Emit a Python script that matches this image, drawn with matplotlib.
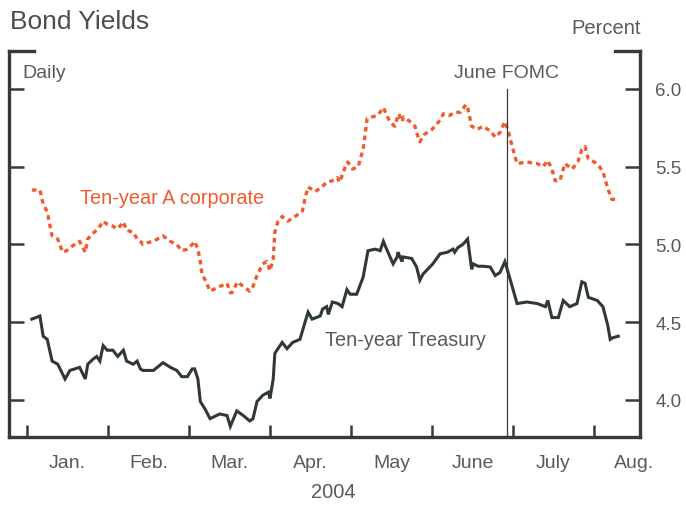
import numpy as np
import matplotlib
matplotlib.use('Agg')
import matplotlib.pyplot as plt

plt.rcParams['font.family'] = ['Liberation Sans', 'DejaVu Sans']

### DATA  (x = months since Jan 1 2004, y = percent)
corp_t = [0.06, 0.16, 0.20, 0.25, 0.31, 0.38, 0.44, 0.49, 0.56, 0.65, 0.72, 0.75,
          0.81, 0.88, 0.94, 0.99, 1.05, 1.12, 1.19, 1.23, 1.31, 1.36, 1.40, 1.43,
          1.48, 1.56, 1.68, 1.77, 1.85, 1.91, 1.98, 2.04, 2.07, 2.11, 2.14, 2.16,
          2.20, 2.26, 2.38, 2.47, 2.51, 2.53, 2.60, 2.67, 2.75, 2.79, 2.84, 2.91,
          2.96, 3.00, 3.04, 3.06, 3.10, 3.15, 3.22, 3.31, 3.40, 3.43, 3.47, 3.56,
          3.64, 3.70, 3.77, 3.83, 3.86, 3.93, 3.96, 4.02, 4.09, 4.12, 4.15, 4.20,
          4.26, 4.33, 4.40, 4.44, 4.48, 4.54, 4.57, 4.59, 4.63, 4.65, 4.73, 4.79,
          4.81, 4.85, 4.91, 5.00, 5.06, 5.10, 5.14, 5.22, 5.28, 5.35, 5.42, 5.44,
          5.49, 5.56, 5.63, 5.72, 5.78, 5.84, 5.90, 5.94, 5.99, 6.05, 6.17, 6.30,
          6.37, 6.43, 6.48, 6.52, 6.58, 6.64, 6.73, 6.80, 6.85, 6.89, 6.93, 7.04,
          7.11, 7.17, 7.22, 7.26]
corp_y = [5.35, 5.35, 5.26, 5.21, 5.055, 5.035, 4.95, 4.96, 4.99, 5.02, 4.95, 5.035,
          5.07, 5.10, 5.15, 5.13, 5.12, 5.10, 5.145, 5.09, 5.08, 5.035, 5.02, 5.00,
          5.01, 5.02, 5.055, 5.02, 5.00, 4.96, 4.97, 5.00, 5.02, 4.97, 4.89, 4.81,
          4.77, 4.70, 4.73, 4.75, 4.69, 4.69, 4.76, 4.73, 4.70, 4.73, 4.80, 4.875,
          4.89, 4.83, 4.91, 5.08, 5.15, 5.18, 5.15, 5.18, 5.215, 5.29, 5.37, 5.34,
          5.37, 5.40, 5.41, 5.43, 5.40, 5.50, 5.53, 5.485, 5.50, 5.56, 5.61, 5.81,
          5.82, 5.83, 5.88, 5.83, 5.79, 5.76, 5.81, 5.84, 5.79, 5.82, 5.79, 5.76,
          5.72, 5.66, 5.71, 5.74, 5.775, 5.80, 5.84, 5.83, 5.85, 5.85, 5.90, 5.88,
          5.76, 5.74, 5.76, 5.73, 5.69, 5.72, 5.79, 5.73, 5.63, 5.52, 5.53, 5.52,
          5.50, 5.54, 5.485, 5.41, 5.41, 5.52, 5.485, 5.53, 5.61, 5.63, 5.55, 5.52,
          5.47, 5.36, 5.29, 5.29]

tsy_t = [0.06, 0.16, 0.20, 0.25, 0.31, 0.38, 0.47, 0.53, 0.65, 0.72, 0.75, 0.81,
         0.86, 0.90, 0.94, 0.99, 1.06, 1.12, 1.19, 1.23, 1.31, 1.36, 1.40, 1.43,
         1.56, 1.68, 1.77, 1.85, 1.91, 1.98, 2.04, 2.07, 2.11, 2.14, 2.20, 2.26,
         2.38, 2.47, 2.51, 2.59, 2.67, 2.75, 2.79, 2.84, 2.91, 2.98, 3.00, 3.04,
         3.06, 3.15, 3.21, 3.28, 3.37, 3.47, 3.52, 3.62, 3.65, 3.70, 3.72, 3.77,
         3.84, 3.89, 3.95, 3.99, 4.07, 4.15, 4.21, 4.30, 4.36, 4.40, 4.44, 4.52,
         4.57, 4.58, 4.63, 4.64, 4.75, 4.81, 4.85, 4.89, 5.01, 5.10, 5.19, 5.26,
         5.28, 5.32, 5.38, 5.44, 5.49, 5.51, 5.57, 5.63, 5.72, 5.78, 5.84, 5.90,
         5.94, 5.99, 6.05, 6.17, 6.30, 6.40, 6.43, 6.48, 6.56, 6.62, 6.70, 6.79,
         6.85, 6.89, 6.93, 7.04, 7.11, 7.17, 7.20, 7.23, 7.30]
tsy_y = [4.52, 4.54, 4.41, 4.39, 4.25, 4.23, 4.135, 4.19, 4.21, 4.135, 4.23, 4.26,
         4.28, 4.25, 4.35, 4.32, 4.32, 4.28, 4.32, 4.25, 4.23, 4.25, 4.20, 4.19,
         4.19, 4.24, 4.21, 4.19, 4.15, 4.15, 4.20, 4.20, 4.135, 3.99, 3.94, 3.88,
         3.91, 3.90, 3.83, 3.93, 3.90, 3.865, 3.88, 3.99, 4.03, 4.05, 4.01, 4.135,
         4.30, 4.37, 4.33, 4.37, 4.39, 4.565, 4.52, 4.54, 4.585, 4.60, 4.55, 4.63,
         4.62, 4.60, 4.71, 4.68, 4.68, 4.79, 4.96, 4.97, 4.96, 5.02, 4.97, 4.875,
         4.92, 4.95, 4.89, 4.92, 4.91, 4.855, 4.77, 4.81, 4.875, 4.94, 4.95, 4.97,
         4.95, 4.98, 5.00, 5.035, 4.84, 4.875, 4.86, 4.86, 4.855, 4.80, 4.82, 4.89,
         4.82, 4.73, 4.62, 4.63, 4.62, 4.60, 4.64, 4.53, 4.53, 4.64, 4.60, 4.62,
         4.76, 4.75, 4.66, 4.64, 4.60, 4.48, 4.39, 4.40, 4.41]

months = ['Jan.', 'Feb.', 'Mar.', 'Apr.', 'May', 'June', 'July', 'Aug.']
yticks = [4.0, 4.5, 5.0, 5.5, 6.0]
fomc_t = 5.93  # June 30

### STYLE
dark = '#343c35'
red = '#f05a2c'
gray = '#5a5a5a'

fig = plt.figure(figsize=(6.86, 5.06), dpi=100)
ax = fig.add_axes([9/686, 68/506, 631/686, 386/506])

ax.plot(tsy_t, tsy_y, '-', color='#2f3a31', lw=2.2, solid_joinstyle='miter')
ax.plot(corp_t, corp_y, color=red, lw=2.4, linestyle=(0, (1.4, 1.2)))
ax.plot([fomc_t, fomc_t], [3.0, 6.0], color=dark, lw=0.9)

ax.set_xlim(-0.222, 7.568)
ax.set_ylim(3.762, 6.244)

### Spines / bracket
for s in ['left', 'right', 'bottom']:
    ax.spines[s].set_color(dark)
    ax.spines[s].set_linewidth(2.4)
ax.spines['top'].set_visible(False)
ax.plot([0, 0.04], [1, 1], transform=ax.transAxes, color=dark, lw=2.4,
        clip_on=False, solid_capstyle='projecting')
ax.plot([0.96, 1], [1, 1], transform=ax.transAxes, color=dark, lw=2.4,
        clip_on=False, solid_capstyle='projecting')

### Ticks
ax.set_xticks(np.arange(len(months)))
ax.set_xticklabels([])
ax.set_xticks(np.arange(len(months)) + 0.5, minor=True)
ax.set_xticklabels(months, minor=True)
ax.tick_params(axis='x', which='major', direction='in', length=8.5, width=1.8, color=dark)
ax.tick_params(axis='x', which='minor', length=0, pad=12, labelsize=14, labelcolor=gray)

ax.set_yticks(yticks)
ax.set_yticklabels(['%.1f' % v for v in yticks])
ax.tick_params(axis='y', which='major', direction='in', length=10.5, width=1.8, color=dark,
               left=True, right=True, labelleft=False, labelright=True,
               pad=11, labelsize=13.5, labelcolor=gray)

### Texts
fig.text(10/686, 1 - 22/506, 'Bond Yields', fontsize=19, color='#4a4f4a', va='center')
fig.text(641/686, 1 - 29/506, 'Percent', fontsize=14.5, color=gray, va='center', ha='right')
fig.text(22/686, 1 - 73/506, 'Daily', fontsize=14, color=gray, va='center')
fig.text(507/686, 1 - 73/506, 'June FOMC', fontsize=14, color=gray, va='center', ha='center')
fig.text(333/686, 1 - 493/506, '2004', fontsize=14.5, color=gray, va='center', ha='center')
ax.text(0.65, 5.30, 'Ten-year A corporate', fontsize=14.3, color=red, va='center')
ax.text(3.68, 4.39, 'Ten-year Treasury', fontsize=14.3, color=gray, va='center')

fig.savefig('out.png', dpi=100)
